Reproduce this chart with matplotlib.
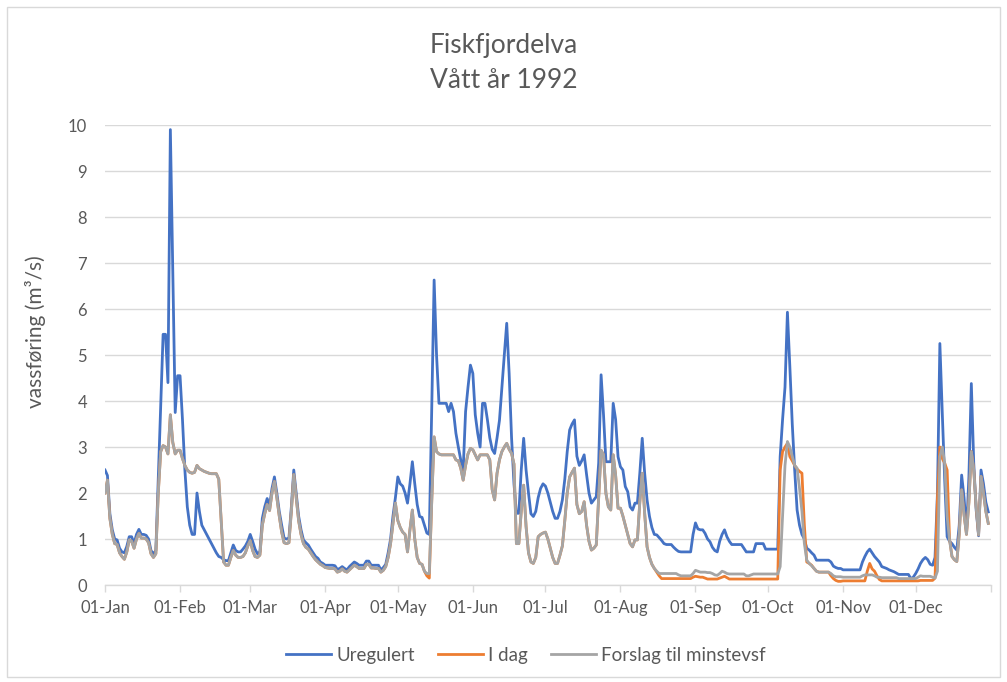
import numpy as np
import pandas as pd
import matplotlib
matplotlib.use("Agg")
import matplotlib.pyplot as plt
import matplotlib.dates as mdates
from matplotlib.patches import Rectangle

# === 1. Data: daglig vassføring 1992 (m3/s), lest av figuren ===
dager = pd.date_range("1992-01-01", "1992-12-31", freq="D")
maanedsstart = pd.date_range("1992-01-01", periods=12, freq="MS")

uregulert = [
    # jan
    2.5, 2.38, 1.55, 1.2, 1.0, 0.98, 0.8, 0.72, 0.7, 0.84, 1.05, 1.05, 0.9, 1.1, 1.21, 1.1,
    1.1, 1.08, 1.0, 0.75, 0.68, 0.75, 2.3, 3.9, 5.45, 5.45, 4.4, 9.9, 6.8, 3.75, 4.55,
    # feb
    4.55, 3.6, 2.5, 1.7, 1.3, 1.1, 1.1, 2.0, 1.6, 1.3, 1.2, 1.1, 1.0, 0.9, 0.8, 0.7,
    0.62, 0.6, 0.55, 0.53, 0.53, 0.7, 0.87, 0.75, 0.72, 0.72, 0.78, 0.85, 0.95,
    # mar
    1.1, 0.95, 0.78, 0.68, 0.72, 1.45, 1.7, 1.88, 1.72, 2.1, 2.35, 2.0, 1.6, 1.3, 1.02, 1.0,
    1.02, 1.7, 2.5, 2.0, 1.5, 1.2, 0.98, 0.92, 0.87, 0.78, 0.7, 0.62, 0.58, 0.5, 0.47,
    # apr
    0.43, 0.43, 0.43, 0.43, 0.42, 0.34, 0.36, 0.4, 0.36, 0.33, 0.4, 0.45, 0.5, 0.47, 0.43,
    0.43, 0.43, 0.52, 0.52, 0.43, 0.43, 0.43, 0.43, 0.33, 0.38, 0.45, 0.7, 1.0, 1.5, 1.9,
    # mai
    2.35, 2.2, 2.15, 2.0, 1.78, 2.2, 2.68, 2.2, 1.75, 1.49, 1.47, 1.3, 1.13, 1.1, 3.8, 6.63,
    5.0, 3.95, 3.95, 3.95, 3.95, 3.77, 3.95, 3.77, 3.3, 3.0, 2.72, 2.5, 3.77, 4.3, 4.78,
    # jun
    4.6, 3.7, 3.3, 3.0, 3.95, 3.95, 3.6, 3.2, 2.95, 2.86, 3.2, 3.58, 4.3, 5.0, 5.69,
    4.6, 3.2, 2.2, 1.56, 1.56, 2.5, 3.19, 2.5, 2.0, 1.55, 1.49, 1.6, 1.9, 2.1, 2.2,
    # jul
    2.15, 2.0, 1.8, 1.6, 1.45, 1.45, 1.6, 1.85, 2.3, 2.9, 3.37, 3.5, 3.59, 2.8, 2.6, 2.7,
    2.83, 2.4, 2.0, 1.78, 1.85, 1.92, 2.65, 4.57, 3.7, 2.68, 2.68, 2.68, 3.95, 3.6, 2.79,
    # aug
    2.57, 2.5, 2.14, 2.03, 1.7, 1.63, 1.78, 1.78, 2.43, 3.19, 2.43, 1.85, 1.49, 1.25, 1.1,
    1.09, 1.03, 0.97, 0.9, 0.88, 0.88, 0.88, 0.82, 0.77, 0.73, 0.72, 0.72, 0.72, 0.72, 0.72, 1.1,
    # sep
    1.35, 1.22, 1.2, 1.2, 1.12, 1.0, 0.94, 0.82, 0.75, 0.72, 0.95, 1.1, 1.2, 1.05, 0.95,
    0.88, 0.88, 0.88, 0.88, 0.88, 0.8, 0.72, 0.72, 0.72, 0.72, 0.9, 0.9, 0.9, 0.9, 0.78,
    # okt
    0.78, 0.78, 0.78, 0.78, 0.78, 2.79, 3.6, 4.3, 5.93, 4.75, 3.5, 2.5, 1.63, 1.3, 1.1, 1.0,
    0.8, 0.76, 0.7, 0.65, 0.54, 0.54, 0.54, 0.54, 0.54, 0.54, 0.5, 0.41, 0.38, 0.36, 0.36,
    # nov
    0.33, 0.33, 0.33, 0.33, 0.33, 0.33, 0.33, 0.33, 0.5, 0.62, 0.72, 0.78, 0.7, 0.62, 0.56,
    0.5, 0.4, 0.38, 0.36, 0.33, 0.31, 0.29, 0.26, 0.23, 0.23, 0.23, 0.23, 0.23, 0.14, 0.17,
    # des
    0.25, 0.35, 0.47, 0.55, 0.6, 0.55, 0.45, 0.43, 0.6, 2.0, 5.25, 3.73, 2.28, 1.05, 0.95, 0.9,
    0.82, 0.76, 1.3, 2.39, 1.9, 1.15, 2.36, 4.38, 2.65, 1.63, 1.07, 2.5, 2.21, 1.8, 1.59,
]

i_dag = [
    # jan
    2.0, 2.28, 1.45, 1.1, 0.9, 0.88, 0.7, 0.62, 0.56, 0.72, 0.98, 0.95, 0.8, 1.0, 1.12, 1.02,
    1.02, 1.0, 0.92, 0.68, 0.6, 0.68, 2.0, 2.9, 3.03, 3.0, 2.85, 3.7, 3.1, 2.85, 2.93,
    # feb
    2.93, 2.75, 2.6, 2.5, 2.45, 2.43, 2.45, 2.6, 2.53, 2.5, 2.47, 2.45, 2.43, 2.42, 2.42, 2.42,
    2.3, 1.4, 0.5, 0.43, 0.43, 0.6, 0.75, 0.65, 0.6, 0.6, 0.62, 0.7, 0.85,
    # mar
    0.96, 0.75, 0.62, 0.6, 0.65, 1.3, 1.55, 1.75, 1.62, 2.0, 2.25, 1.9, 1.5, 1.15, 0.92, 0.9,
    0.92, 1.6, 2.4, 1.9, 1.4, 1.1, 0.9, 0.82, 0.78, 0.7, 0.62, 0.55, 0.5, 0.45, 0.42,
    # apr
    0.38, 0.37, 0.36, 0.36, 0.35, 0.28, 0.3, 0.35, 0.3, 0.28, 0.33, 0.38, 0.43, 0.4, 0.36,
    0.36, 0.36, 0.45, 0.45, 0.37, 0.37, 0.36, 0.36, 0.28, 0.32, 0.4, 0.6, 0.9, 1.35, 1.78,
    # mai
    1.4, 1.25, 1.15, 1.1, 0.72, 1.2, 1.63, 1.0, 0.6, 0.47, 0.45, 0.3, 0.2, 0.15, 1.8, 3.22,
    2.9, 2.85, 2.83, 2.83, 2.83, 2.83, 2.83, 2.83, 2.72, 2.7, 2.54, 2.28, 2.6, 2.85, 2.97,
    # jun
    2.94, 2.83, 2.72, 2.83, 2.83, 2.83, 2.83, 2.72, 2.07, 1.85, 2.43, 2.72, 2.9, 3.0, 3.08,
    2.95, 2.86, 2.63, 0.9, 0.9, 1.6, 2.17, 1.27, 0.7, 0.5, 0.47, 0.6, 1.05, 1.1, 1.13,
    # jul
    1.15, 1.0, 0.8, 0.6, 0.47, 0.47, 0.65, 0.85, 1.4, 2.0, 2.35, 2.45, 2.54, 1.75, 1.55, 1.6,
    1.81, 1.3, 0.95, 0.76, 0.8, 0.87, 1.9, 2.93, 2.83, 1.99, 1.7, 1.63, 2.83, 2.39, 1.67,
    # aug
    1.67, 1.5, 1.3, 1.1, 0.9, 0.83, 0.98, 0.98, 1.8, 2.43, 1.56, 0.83, 0.6, 0.45, 0.36, 0.28,
    0.2, 0.14, 0.14, 0.14, 0.14, 0.14, 0.14, 0.14, 0.14, 0.14, 0.14, 0.14, 0.14, 0.14, 0.17,
    # sep
    0.19, 0.18, 0.17, 0.17, 0.15, 0.13, 0.13, 0.13, 0.13, 0.13, 0.15, 0.17, 0.19, 0.16, 0.13,
    0.13, 0.13, 0.13, 0.13, 0.13, 0.13, 0.13, 0.13, 0.13, 0.13, 0.13, 0.13, 0.13, 0.13, 0.13,
    # okt
    0.13, 0.13, 0.13, 0.13, 0.13, 2.5, 2.9, 3.0, 3.08, 2.79, 2.7, 2.6, 2.52, 2.47, 2.43, 1.3,
    0.5, 0.47, 0.43, 0.36, 0.3, 0.28, 0.28, 0.28, 0.28, 0.28, 0.2, 0.14, 0.1, 0.08, 0.08,
    # nov
    0.09, 0.09, 0.09, 0.09, 0.09, 0.09, 0.09, 0.09, 0.09, 0.09, 0.3, 0.47, 0.35, 0.3, 0.2,
    0.12, 0.09, 0.09, 0.09, 0.09, 0.09, 0.09, 0.09, 0.09, 0.09, 0.09, 0.09, 0.09, 0.09, 0.09,
    # des
    0.09, 0.09, 0.1, 0.1, 0.1, 0.1, 0.1, 0.1, 0.15, 1.9, 3.0, 2.75, 2.65, 2.5, 1.0, 0.62,
    0.55, 0.51, 1.1, 2.07, 1.52, 1.1, 1.8, 2.9, 2.5, 1.7, 1.09, 2.36, 2.0, 1.6, 1.34,
]

forslag = [
    # jan
    2.0, 2.28, 1.45, 1.1, 0.9, 0.88, 0.7, 0.62, 0.56, 0.72, 0.98, 0.95, 0.8, 1.0, 1.12, 1.02,
    1.02, 1.0, 0.92, 0.68, 0.6, 0.68, 2.0, 2.9, 3.03, 3.0, 2.85, 3.7, 3.1, 2.85, 2.93,
    # feb
    2.93, 2.75, 2.6, 2.5, 2.45, 2.43, 2.45, 2.6, 2.53, 2.5, 2.47, 2.45, 2.43, 2.42, 2.42, 2.42,
    2.3, 1.4, 0.5, 0.43, 0.43, 0.6, 0.75, 0.65, 0.6, 0.6, 0.62, 0.7, 0.85,
    # mar
    0.96, 0.75, 0.62, 0.6, 0.65, 1.3, 1.55, 1.75, 1.62, 2.0, 2.25, 1.9, 1.5, 1.15, 0.92, 0.9,
    0.92, 1.6, 2.4, 1.9, 1.4, 1.1, 0.9, 0.82, 0.78, 0.7, 0.62, 0.55, 0.5, 0.45, 0.42,
    # apr
    0.38, 0.37, 0.36, 0.36, 0.35, 0.28, 0.3, 0.35, 0.3, 0.28, 0.33, 0.38, 0.43, 0.4, 0.36,
    0.36, 0.36, 0.45, 0.45, 0.37, 0.37, 0.36, 0.36, 0.28, 0.32, 0.4, 0.6, 0.9, 1.35, 1.78,
    # mai
    1.4, 1.25, 1.15, 1.1, 0.72, 1.2, 1.63, 1.0, 0.6, 0.47, 0.45, 0.3, 0.25, 0.25, 1.8, 3.22,
    2.9, 2.85, 2.83, 2.83, 2.83, 2.83, 2.83, 2.83, 2.72, 2.7, 2.54, 2.28, 2.6, 2.85, 2.97,
    # jun
    2.94, 2.83, 2.72, 2.83, 2.83, 2.83, 2.83, 2.72, 2.07, 1.85, 2.43, 2.72, 2.9, 3.0, 3.08,
    2.95, 2.86, 2.63, 0.9, 0.9, 1.6, 2.17, 1.27, 0.7, 0.5, 0.47, 0.6, 1.05, 1.1, 1.13,
    # jul
    1.15, 1.0, 0.8, 0.6, 0.47, 0.47, 0.65, 0.85, 1.4, 2.0, 2.35, 2.45, 2.54, 1.75, 1.55, 1.6,
    1.81, 1.3, 0.95, 0.76, 0.8, 0.87, 1.9, 2.93, 2.83, 1.99, 1.7, 1.63, 2.83, 2.39, 1.67,
    # aug
    1.67, 1.5, 1.3, 1.1, 0.9, 0.83, 0.98, 0.98, 1.8, 2.43, 1.56, 0.83, 0.6, 0.45, 0.36, 0.3,
    0.25, 0.25, 0.25, 0.25, 0.25, 0.25, 0.25, 0.25, 0.22, 0.2, 0.2, 0.2, 0.2, 0.2, 0.25,
    # sep
    0.32, 0.3, 0.28, 0.28, 0.28, 0.27, 0.27, 0.25, 0.22, 0.21, 0.25, 0.3, 0.28, 0.25, 0.24,
    0.24, 0.24, 0.24, 0.24, 0.24, 0.24, 0.2, 0.2, 0.22, 0.24, 0.24, 0.24, 0.24, 0.24, 0.24,
    # okt
    0.24, 0.24, 0.24, 0.24, 0.24, 0.4, 1.5, 2.6, 3.12, 3.0, 2.8, 2.6, 2.54, 2.1, 1.6, 0.9,
    0.54, 0.47, 0.42, 0.36, 0.3, 0.28, 0.28, 0.28, 0.28, 0.28, 0.25, 0.2, 0.18, 0.18, 0.18,
    # nov
    0.17, 0.17, 0.17, 0.17, 0.17, 0.17, 0.17, 0.17, 0.2, 0.22, 0.22, 0.22, 0.22, 0.2, 0.17,
    0.17, 0.16, 0.16, 0.16, 0.16, 0.16, 0.16, 0.16, 0.14, 0.14, 0.14, 0.14, 0.14, 0.14, 0.14,
    # des
    0.14, 0.17, 0.2, 0.19, 0.19, 0.19, 0.19, 0.17, 0.15, 0.3, 2.79, 3.0, 2.65, 1.49, 0.98, 0.62,
    0.55, 0.51, 1.1, 2.07, 1.52, 1.1, 1.8, 2.9, 2.5, 1.7, 1.09, 2.36, 2.0, 1.6, 1.34,
]

serier = ["Uregulert", "I dag", "Forslag til minstevsf"]
farger = ["#4472C4", "#ED7D31", "#A5A5A5"]

# === 2. Figur ===
plt.rcParams["font.family"] = ["Lato", "DejaVu Sans"]
tekstfarge = "#595959"
gridfarge = "#D9D9D9"

fig = plt.figure(figsize=(10.07, 6.82), dpi=100)
ax = fig.add_axes([0.1043, 0.1422, 0.8795, 0.6745])

for navn, verdier, farge in zip(serier, [uregulert, i_dag, forslag], farger):
    ax.plot(dager, verdier, color=farge, lw=2.0, label=navn, solid_joinstyle="round")

ax.set_ylim(0, 10)
ax.set_yticks(range(0, 11))
ax.set_xlim(pd.Timestamp("1992-01-01"), pd.Timestamp("1993-01-01"))
ax.set_xticks(maanedsstart)
ax.xaxis.set_major_formatter(mdates.DateFormatter("%d-%b"))
ax.set_xticks([mdates.date2num(pd.Timestamp("1993-01-01"))], minor=True)

ax.grid(axis="y", color=gridfarge, lw=1.0)
ax.set_axisbelow(True)
for side in ["top", "right", "left"]:
    ax.spines[side].set_visible(False)
ax.spines["bottom"].set_color(gridfarge)
ax.spines["bottom"].set_linewidth(1.0)

ax.tick_params(axis="y", length=0, pad=13, labelsize=12, labelcolor=tekstfarge)
ax.tick_params(axis="x", which="both", length=5, width=1, color=gridfarge,
               pad=6, labelsize=12, labelcolor=tekstfarge)

ax.set_ylabel("vassføring (m³/s)", fontsize=15, color=tekstfarge)
ax.yaxis.set_label_coords(-0.067, 0.55)

fig.text(0.5, 1 - 63 / 682, "Fiskfjordelva\nVått år 1992", ha="center", va="center",
         fontsize=19, color=tekstfarge, linespacing=1.55)

ax.legend(loc="center", bbox_to_anchor=(526 / 1007, 1 - 655 / 682),
          bbox_transform=fig.transFigure, ncol=3, frameon=False, fontsize=13.5,
          labelcolor=tekstfarge, handlelength=2.4, handletextpad=0.3, columnspacing=1.2)

# tynn ramme rundt diagrammet
fig.patches.append(Rectangle((7 / 1007, 5 / 682), 993 / 1007, 670 / 682,
                             transform=fig.transFigure, fill=False,
                             edgecolor=gridfarge, lw=1.0))

fig.savefig("out.png", dpi=100)
